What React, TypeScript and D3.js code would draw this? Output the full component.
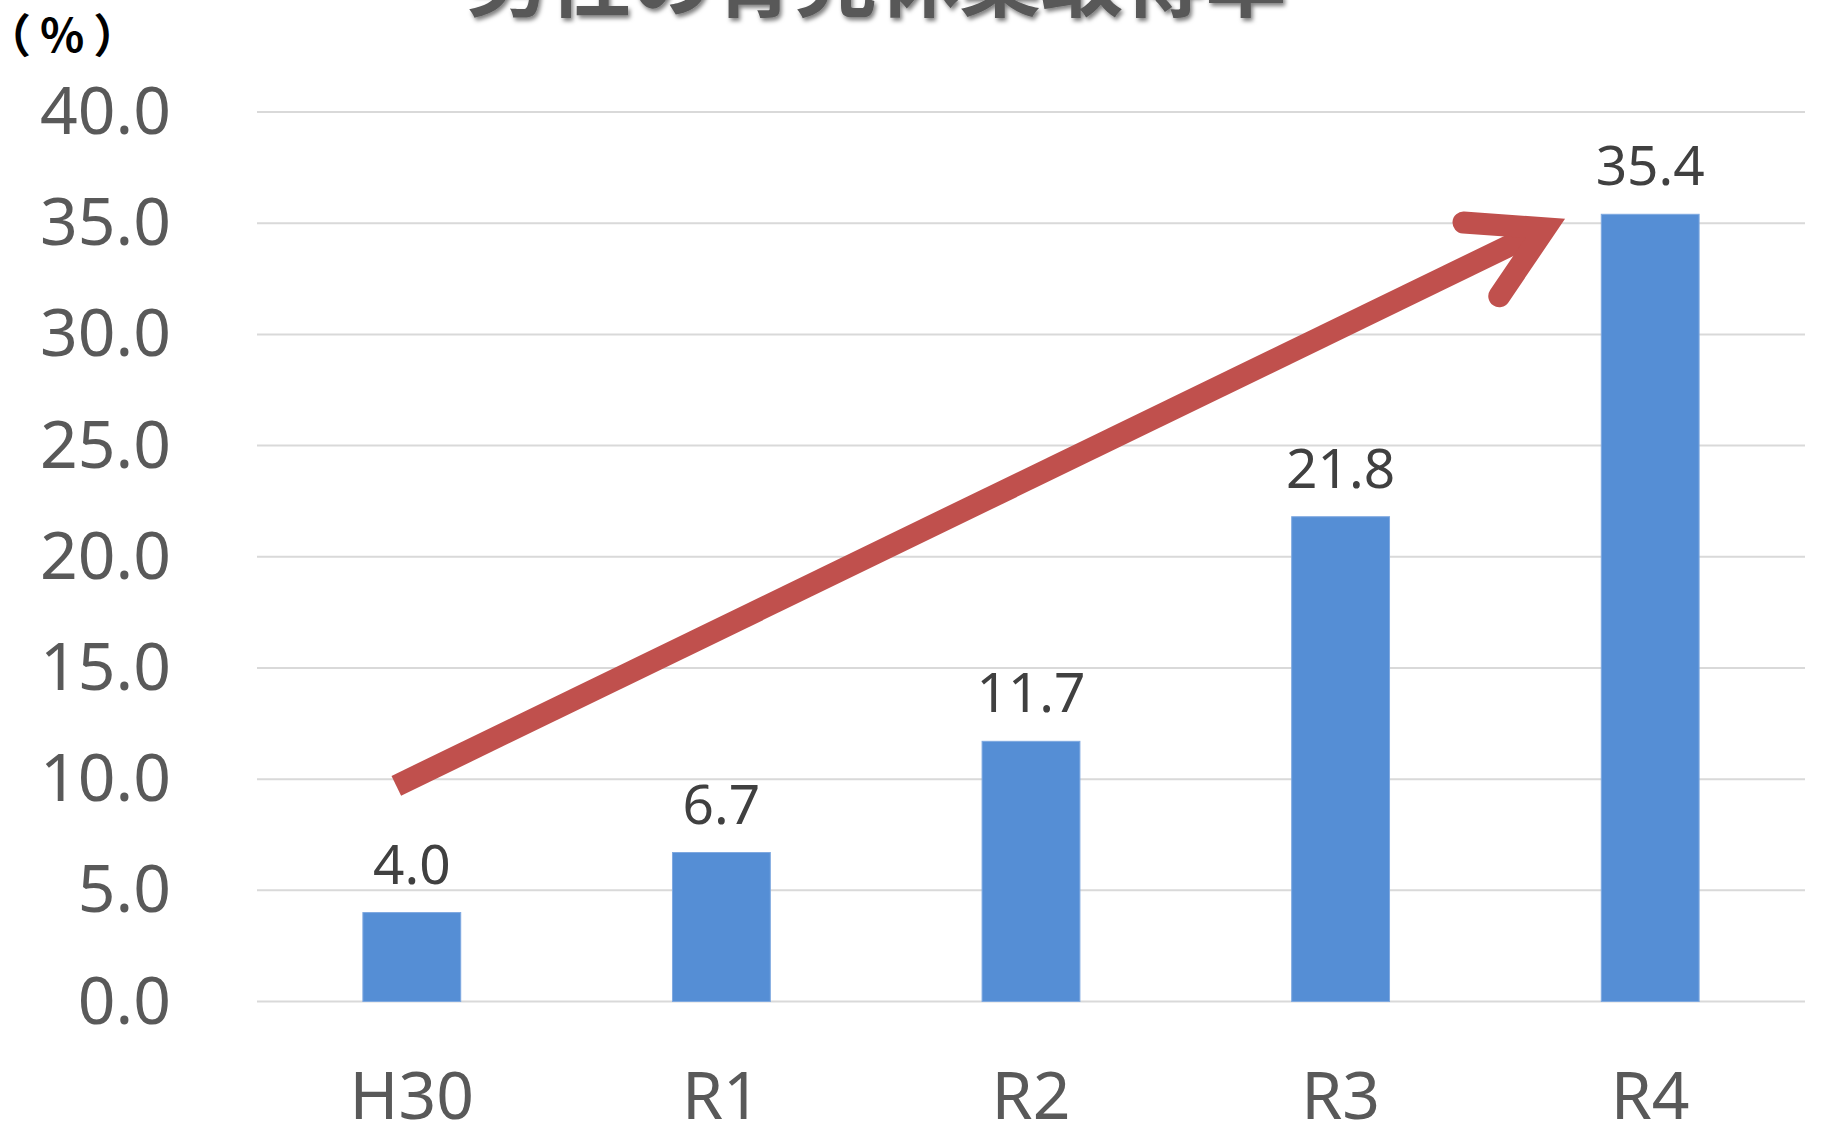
import React, { useEffect, useRef } from 'react';
import * as d3 from 'd3';

const categories = ["H30", "R1", "R2", "R3", "R4"];
const values = [4.0, 6.7, 11.7, 21.8, 35.4];
const yTicks = [0, 5, 10, 15, 20, 25, 30, 35, 40];
const title = "男性の育児休業取得率";
const unitLabel = "（%）";
// trend arrow, in category-index / value space
const arrowTail = { index: -0.05, value: 9.7 };
const arrowTip = { index: 3.725, value: 35.2 };

const App: React.FC = () => {
  const svgRef = useRef<SVGSVGElement>(null);

  useEffect(() => {
    if (!svgRef.current) return;
    document.body.style.margin = "0";

    const svg = d3.select(svgRef.current);
    svg.selectAll("*").remove();

    const width = 1826;
    const height = 1132;
    const margin = { top: 112, right: 21, bottom: 130.5, left: 257 };

    const x = d3.scaleBand<string>()
      .domain(categories)
      .range([margin.left, width - margin.right])
      .paddingInner(0.684)
      .paddingOuter(0.342);

    const y = d3.scaleLinear()
      .domain([0, 40])
      .range([height - margin.bottom, margin.top]);

    // centre of each band, by index (for the arrow)
    const step = (width - margin.left - margin.right) / categories.length;
    const xi = d3.scaleLinear()
      .domain([0, 1])
      .range([margin.left + step / 2, margin.left + step * 1.5]);

    const defs = svg.append("defs");
    const shadow = defs.append("filter").attr("id", "titleShadow")
      .attr("x", "-10%").attr("y", "-50%").attr("width", "120%").attr("height", "200%");
    shadow.append("feDropShadow")
      .attr("dx", 2).attr("dy", 3).attr("stdDeviation", 2)
      .attr("flood-color", "#000").attr("flood-opacity", 0.5);

    // gridlines
    svg.append("g")
      .selectAll("line")
      .data(yTicks)
      .enter().append("line")
      .attr("x1", margin.left)
      .attr("x2", width - margin.right)
      .attr("y1", d => y(d))
      .attr("y2", d => y(d))
      .attr("stroke", "#d9d9d9")
      .attr("stroke-width", 2);

    // y labels
    svg.append("g")
      .selectAll("text")
      .data(yTicks)
      .enter().append("text")
      .attr("x", 171)
      .attr("y", d => y(d) + 22)
      .attr("text-anchor", "end")
      .attr("font-family", "'Noto Sans', sans-serif")
      .attr("font-size", 66)
      .attr("fill", "#595959")
      .text(d => d.toFixed(1));

    // bars
    svg.append("g")
      .selectAll("rect")
      .data(values)
      .enter().append("rect")
      .attr("x", (_, i) => x(categories[i])!)
      .attr("y", d => y(d))
      .attr("width", x.bandwidth())
      .attr("height", d => y(0) - y(d))
      .attr("fill", "#558ed5")
      .attr("stroke", "#7fa9e0")
      .attr("stroke-width", 1);

    // value labels
    svg.append("g")
      .selectAll("text")
      .data(values)
      .enter().append("text")
      .attr("x", (_, i) => x(categories[i])! + x.bandwidth() / 2)
      .attr("y", d => y(d) - 29)
      .attr("text-anchor", "middle")
      .attr("font-family", "'Noto Sans', sans-serif")
      .attr("font-size", 55)
      .attr("fill", "#404040")
      .text(d => d.toFixed(1));

    // x labels
    svg.append("g")
      .selectAll("text")
      .data(categories)
      .enter().append("text")
      .attr("x", d => x(d)! + x.bandwidth() / 2)
      .attr("y", 1119)
      .attr("text-anchor", "middle")
      .attr("font-family", "'Noto Sans', sans-serif")
      .attr("font-size", 66)
      .attr("fill", "#595959")
      .text(d => d);

    // trend arrow
    const tail: [number, number] = [xi(arrowTail.index), y(arrowTail.value)];
    const tip: [number, number] = [xi(arrowTip.index), y(arrowTip.value)];
    const sw = 22;
    const ang = Math.atan2(tip[1] - tail[1], tip[0] - tail[0]);
    const vertex: [number, number] = [tip[0] - sw * Math.cos(ang), tip[1] - sw * Math.sin(ang)];
    const wingLen = 82;
    const back = ang + Math.PI;
    const wingA: [number, number] = [vertex[0] + wingLen * Math.cos(back - Math.PI / 6), vertex[1] + wingLen * Math.sin(back - Math.PI / 6)];
    const wingB: [number, number] = [vertex[0] + wingLen * Math.cos(back + Math.PI / 6), vertex[1] + wingLen * Math.sin(back + Math.PI / 6)];

    svg.append("path")
      .attr("d", d3.line()([tail, vertex]))
      .attr("fill", "none")
      .attr("stroke", "#c0504d")
      .attr("stroke-width", sw)
      .attr("stroke-linecap", "butt");

    svg.append("path")
      .attr("d", d3.line()([wingA, vertex, wingB]))
      .attr("fill", "none")
      .attr("stroke", "#c0504d")
      .attr("stroke-width", sw)
      .attr("stroke-linejoin", "miter")
      .attr("stroke-linecap", "round");

    // unit label
    svg.append("text")
      .attr("x", -15)
      .attr("y", 52)
      .attr("font-family", "'Noto Sans CJK JP', sans-serif")
      .attr("font-size", 46)
      .attr("font-weight", "bold")
      .attr("letter-spacing", 9)
      .attr("fill", "#000")
      .text(unitLabel);

    // title (cut off at the top edge)
    svg.append("text")
      .attr("x", 877)
      .attr("y", 10)
      .attr("text-anchor", "middle")
      .attr("font-family", "'Noto Sans CJK JP', sans-serif")
      .attr("font-size", 82)
      .attr("font-weight", "bold")
      .attr("fill", "#595959")
      .attr("filter", "url(#titleShadow)")
      .text(title);
  }, []);

  return (
    <svg ref={svgRef} width={1826} height={1132} viewBox="0 0 1826 1132"
      style={{ display: "block", background: "#fff" }}></svg>
  );
};

export default App;
